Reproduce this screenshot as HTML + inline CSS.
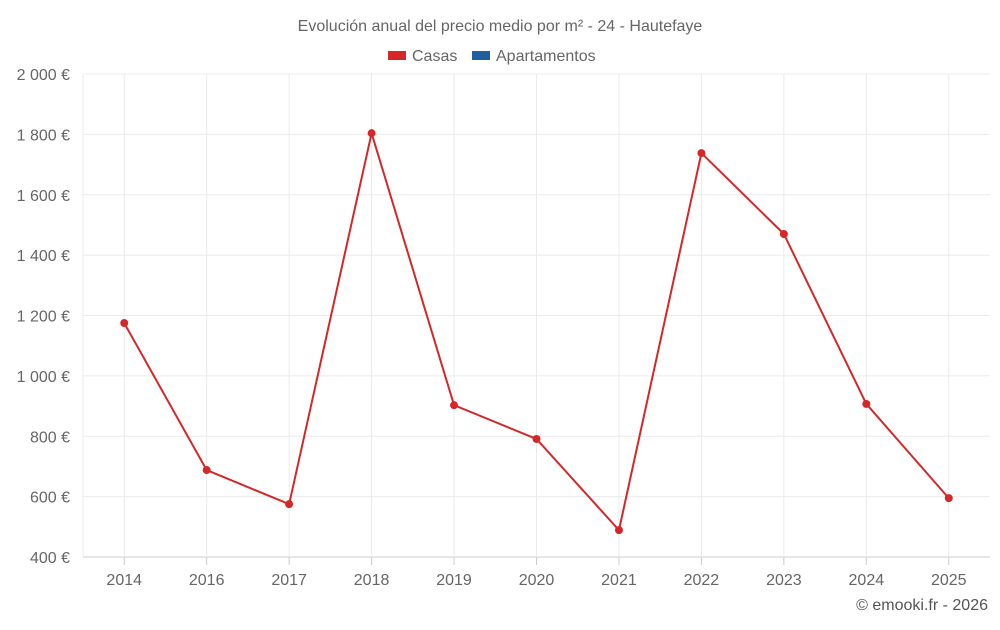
<!DOCTYPE html>
<html><head><meta charset="utf-8"><style>
body{margin:0;background:#fff;font-family:"Liberation Sans",sans-serif}
svg text{font-family:"Liberation Sans",sans-serif}
</style></head><body>
<svg id="chart" width="1000" height="625">
<text x="500" y="31" text-anchor="middle" font-size="16" fill="#666">Evolución anual del precio medio por m² - 24 - Hautefaye</text>
<g>
<g><rect x="388" y="51" width="18" height="9" fill="#d62728"/><text x="412" y="61" font-size="16" fill="#666">Casas</text></g>
<g><rect x="472" y="51" width="18" height="9" fill="#1f5fa0"/><text x="496" y="61" font-size="16" fill="#666">Apartamentos</text></g>
</g>
<g id="grid"></g><g id="axes"></g><g id="series"></g>
<text x="988" y="610" text-anchor="end" font-size="16" fill="#555">© emooki.fr - 2026</text>
</svg>
<script>
const categories=["2014","2016","2017","2018","2019","2020","2021","2022","2023","2024","2025"];
const casasValues=[1175,688,575,1804,903,791,489,1738,1470,907,595];
const yTicks=[400,600,800,1000,1200,1400,1600,1800,2000];
const yTickLabels=["400 €","600 €","800 €","1 000 €","1 200 €","1 400 €","1 600 €","1 800 €","2 000 €"];
const L=83,R=990,T=74,B=557,yMin=400,yMax=2000;
const NS="http://www.w3.org/2000/svg";
function y(v){return B-(v-yMin)/(yMax-yMin)*(B-T);}
function x(i){const step=(R-L)/categories.length;return L+step*(i+0.5);}
function mk(t,a,p){const e=document.createElementNS(NS,t);for(const k in a)e.setAttribute(k,a[k]);p.appendChild(e);return e;}
const grid=document.getElementById('grid'),axes=document.getElementById('axes'),ser=document.getElementById('series');
yTicks.forEach((v,i)=>{
 const l=mk('line',{x1:L,x2:R,y1:y(v),y2:y(v),stroke:i==0?'#ccc':'#ebebeb'},grid);
 
 
 const t=mk('text',{x:70,y:y(v)+6,'text-anchor':'end','font-size':16,fill:'#666'},axes);
 t.textContent=yTickLabels[i];
 
 
});
const edge=mk('line',{x1:L,x2:L,y1:T,y2:B,stroke:'#ebebeb'},grid);


categories.forEach((c,i)=>{
 const g=mk('line',{x1:x(i),x2:x(i),y1:T,y2:B,stroke:'#ebebeb'},grid);
 
 
 const tk=mk('line',{x1:x(i),x2:x(i),y1:B,y2:B+8,stroke:'#ccc'},axes);
 
 
 const t=mk('text',{x:x(i),y:585,'text-anchor':'middle','font-size':16,fill:'#666'},axes);
 t.textContent=c;
 
 
});
const path=mk('polyline',{points:casasValues.map((v,i)=>x(i)+','+y(v)).join(' '),fill:'none',stroke:'#d62728','stroke-width':2},ser);


casasValues.forEach((v,i)=>{
 const c=mk('circle',{cx:x(i),cy:y(v),r:4,fill:'#d62728'},ser);
 
 
});
</script>
</body></html>
